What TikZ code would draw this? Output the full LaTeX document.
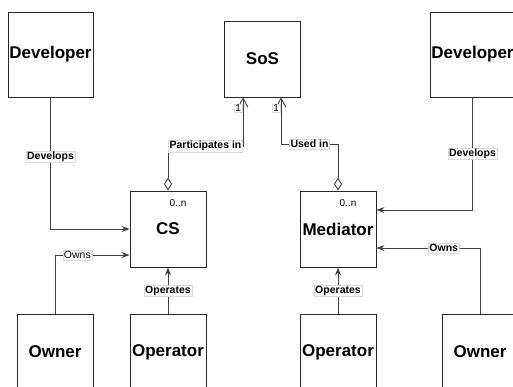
\documentclass[tikz,border=0pt]{standalone}
\usepackage{fontspec}
\setmainfont{Liberation Sans}
\usetikzlibrary{arrows.meta,calc}
\begin{document}
\begin{tikzpicture}[x=1pt,y=-1pt,
  box/.style={draw=black!85,line width=0.9pt,fill=white,minimum width=76pt,minimum height=76pt,inner sep=0pt,font=\bfseries\fontsize{17}{20}\selectfont},
  bigbox/.style={box,minimum width=85pt,minimum height=85pt},
  conn/.style={draw=black!75,line width=0.9pt},
  arr/.style={conn,-{Stealth[length=8pt,width=6pt]}},
  agg/.style={conn,{Diamond[open,length=13pt,width=8pt]}-{Straight Barb[length=9pt,width=10pt]}},
  lbl/.style={fill=white,draw=black!15,line width=0.4pt,inner sep=1pt,font=\bfseries\fontsize{10.5}{12}\selectfont},
  lbln/.style={lbl,font=\fontsize{10.5}{12}\selectfont},
  mult/.style={inner sep=0pt,font=\fontsize{10}{12}\selectfont}]
\useasboundingbox (0,0) rectangle (513,386);
\clip (0,0) rectangle (513,386);
\node[bigbox] (devL) at (50.5,54.5) {Developer};
\node[bigbox] (devR) at (472.5,54.5) {Developer};
\node[box] (sos) at (262.5,59) {SoS};
\node[box] (cs) at (168,229) {CS};
\node[box] (med) at (338,229) {Mediator};
\node[box] (ownL) at (55,352) {Owner};
\node[box] (opL) at (168,352) {Operator};
\node[box] (opR) at (338,352) {Operator};
\node[box] (ownR) at (480,352) {Owner};
\node[mult] (csm) at (178,203.5) {0..n};
\node[mult] (medm) at (348,203.5) {0..n};
% coordinates
\coordinate (pk) at (0,146);
\coordinate (uk) at (0,144);
\coordinate (sosL) at ([xshift=-19.5pt]sos.south);
\coordinate (sosR) at ([xshift=18.5pt]sos.south);
\coordinate (csOwn) at ([yshift=-26pt]cs.west);
\coordinate (medDev) at ([yshift=19pt]med.east);
\coordinate (medOwn) at ([yshift=-19pt]med.east);
% Develops left
\draw[arr] (devL.south) -- node[lbl,pos=0.45] {Develops} (devL.south |- cs.west) -- (cs.west);
% Owns left
\draw[arr] (ownL.north) -- (ownL.north |- csOwn) -- node[lbln,pos=0.3] {Owns} (csOwn);
% Operates left
\draw[arr] (opL.north) -- node[lbl] {Operates} (cs.south);
% Participates in
\draw[agg] (cs.north) -- (cs.north |- pk) -- node[lbl] {Participates in} (sosL |- pk) -- (sosL);
\node[lbl,font=\fontsize{10}{12}\selectfont,inner sep=0.8pt,anchor=east] (one1) at (242,108) {1};
% Used in
\draw[agg] (med.north) -- (med.north |- uk) -- node[lbl] {Used in} (sosR |- uk) -- (sosR);
\node[lbl,font=\fontsize{10}{12}\selectfont,inner sep=0.8pt,anchor=east] (one2) at (280,108) {1};
% Develops right
\draw[arr] (devR.south) -- node[lbl,pos=0.5] {Develops} (devR.south |- medDev) -- (medDev);
% Owns right
\draw[arr] (ownR.north) -- (ownR.north |- medOwn) -- node[lbl,pos=0.35] {Owns} (medOwn);
% Operates right
\draw[arr] (opR.north) -- node[lbl] {Operates} (med.south);
\end{tikzpicture}
\end{document}
